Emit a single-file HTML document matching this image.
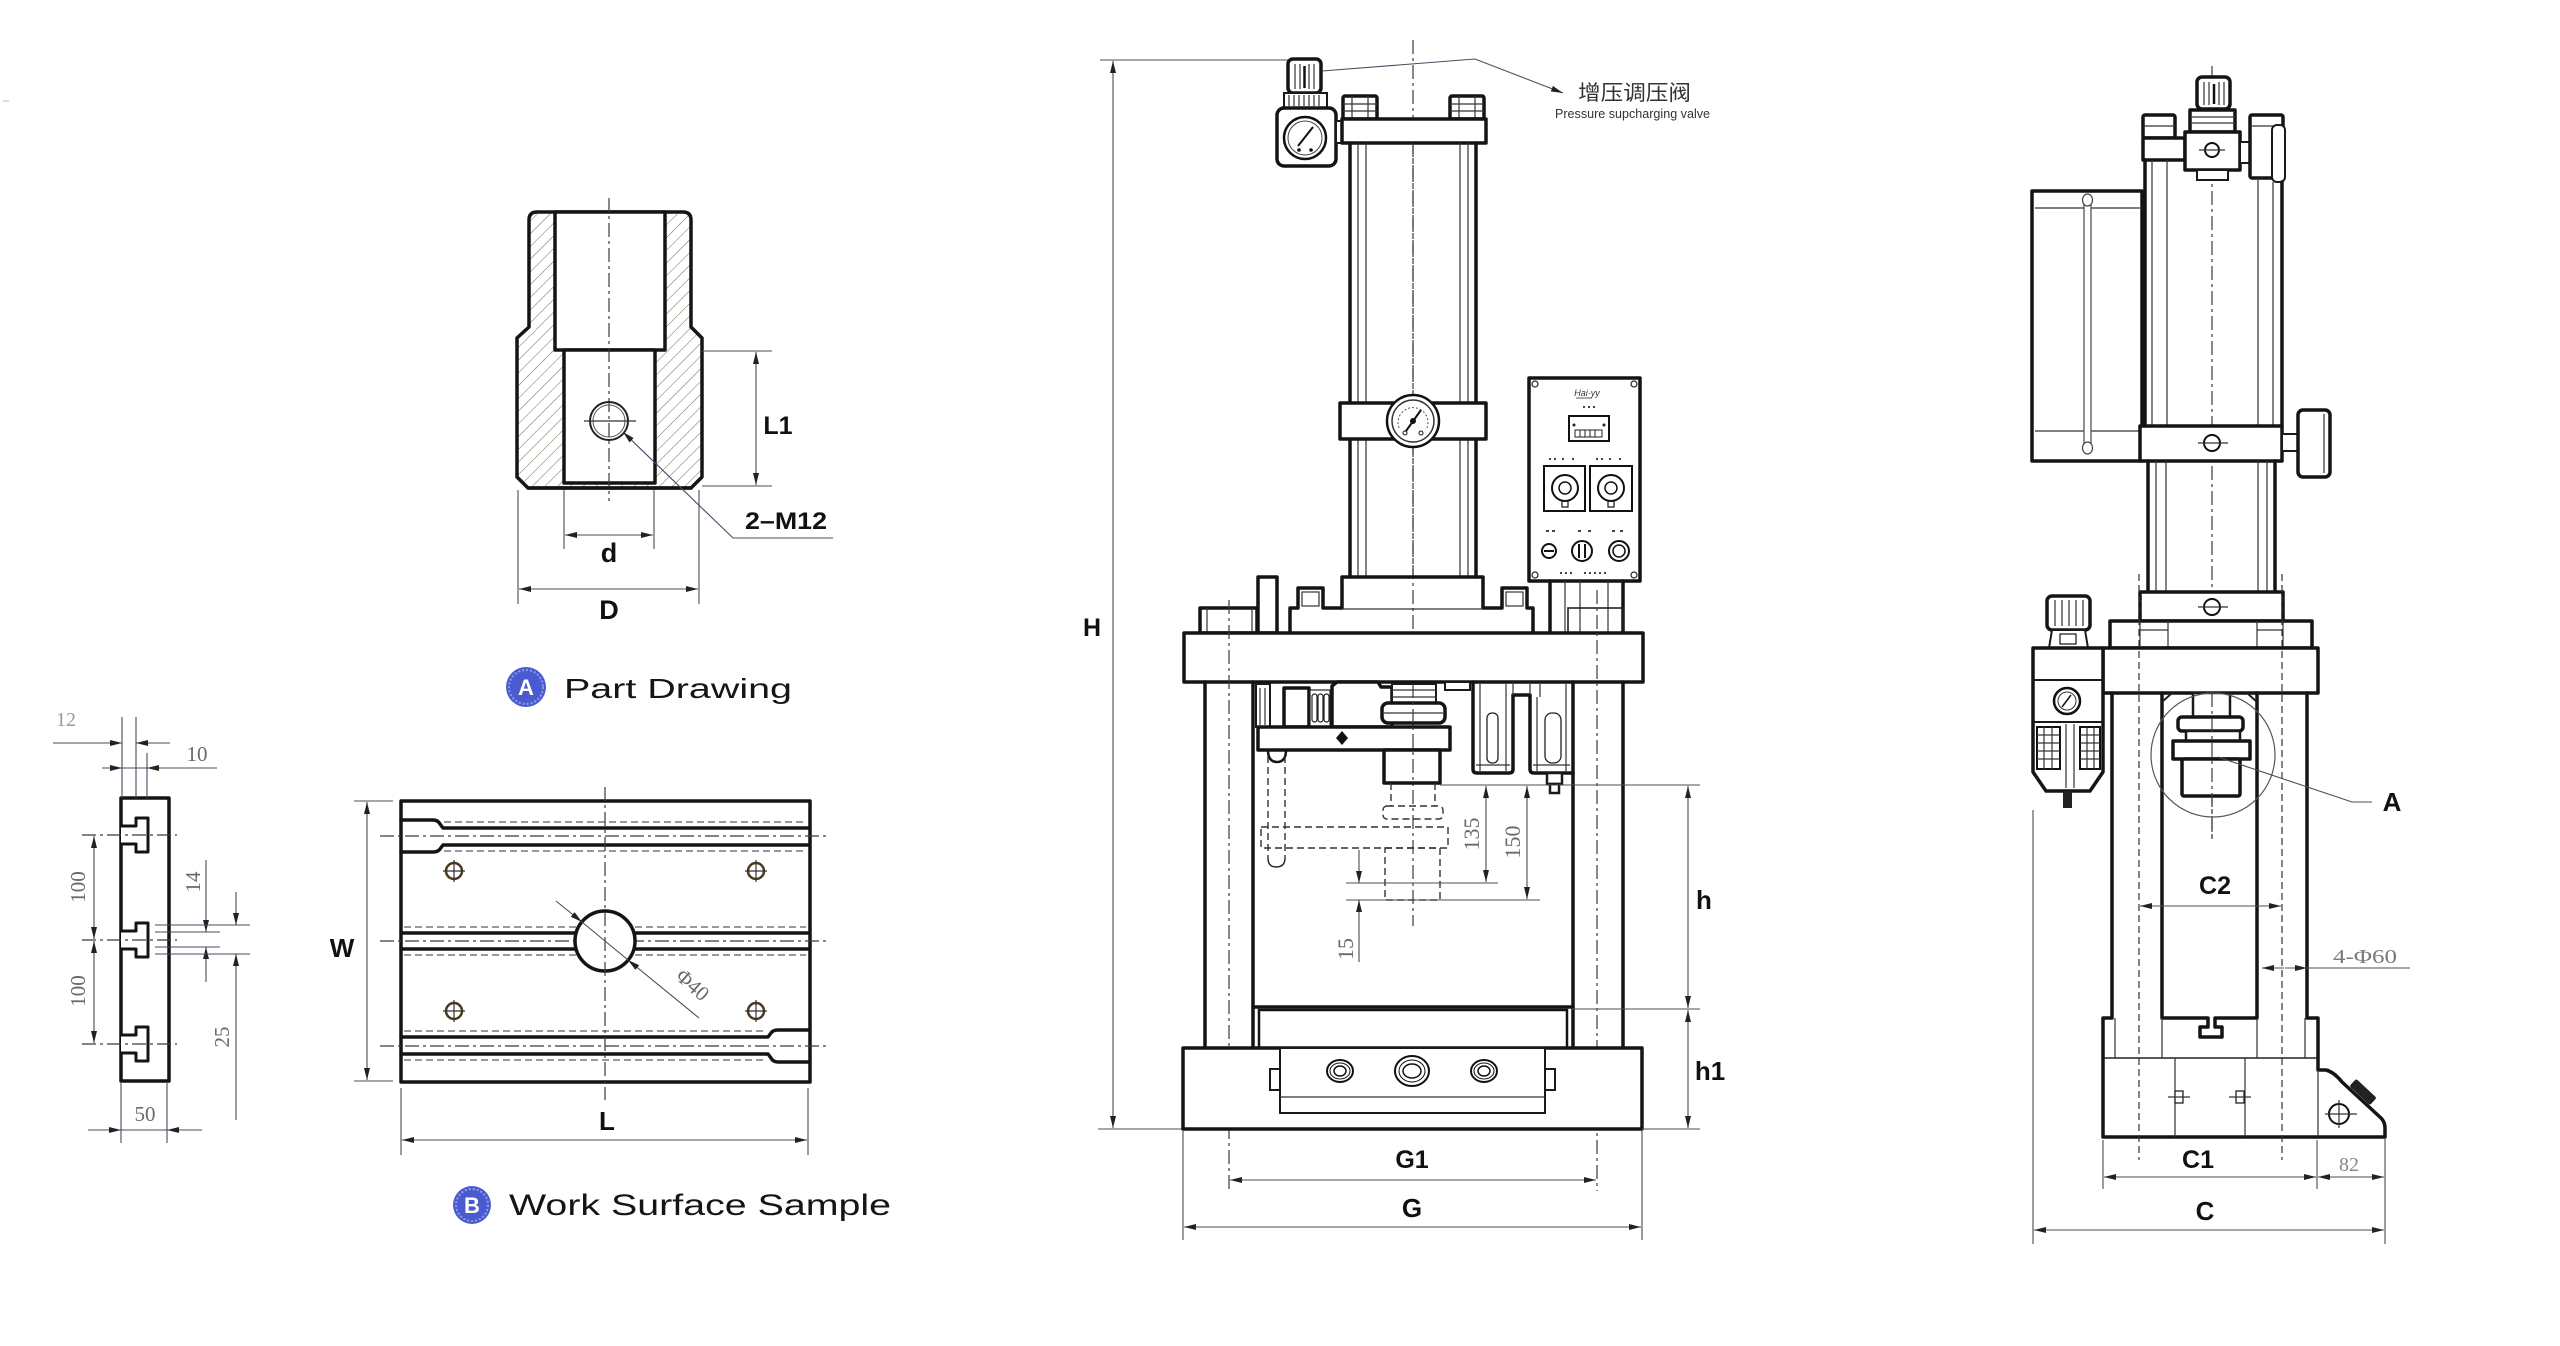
<!DOCTYPE html>
<html><head><meta charset="utf-8"><style>
html,body{margin:0;padding:0;background:#fff;width:2560px;height:1346px;overflow:hidden}
svg{display:block}
.k{stroke:#141414;stroke-width:3.5;fill:none;stroke-linejoin:round;stroke-linecap:round}
.kw{stroke:#141414;stroke-width:3.5;fill:#fff;stroke-linejoin:round}
.m{stroke:#1a1a1a;stroke-width:2;fill:none}
.mw{stroke:#1a1a1a;stroke-width:2;fill:#fff}
.t{stroke:#333;stroke-width:1.2;fill:none}
.dm{stroke:#4d4860;stroke-width:1.1;fill:none}
.cl{stroke:#3a3a3a;stroke-width:1.2;stroke-dasharray:14 4 3 4;fill:none}
.hd{stroke:#333;stroke-width:1.4;stroke-dasharray:7 4;fill:none}
.lb{font-family:"Liberation Sans",Arial,sans-serif;font-weight:bold;fill:#111}
.sr{font-family:"Liberation Serif",serif;fill:#6a6a6a}
.cap{font-family:"Liberation Sans",sans-serif;fill:#151515}
</style></head><body>
<svg width="2560" height="1346" viewBox="0 0 2560 1346" xmlns="http://www.w3.org/2000/svg">
<defs>
<marker id="a" viewBox="0 0 12 6" refX="12" refY="3" markerWidth="12" markerHeight="6" markerUnits="userSpaceOnUse" orient="auto-start-reverse"><path d="M0,0 L12,3 L0,6 Z" fill="#222"/></marker>
<pattern id="hatch" patternUnits="userSpaceOnUse" width="9" height="9" patternTransform="rotate(45)"><line x1="0" y1="0" x2="0" y2="9" stroke="#7a6a55" stroke-width="1"/></pattern>
</defs>
<rect width="2560" height="1346" fill="#fff"/>
<line x1="3" y1="101" x2="9" y2="101" stroke="#bbb" stroke-width="1"/>

<!-- ========== PART DRAWING A ========== -->
<path d="M529,220 Q529,212 537,212 L683,212 Q691,212 691,220 L691,327 L702,338 L702,477 L691,488 L528,488 L517,477 L517,338 L529,327 Z" fill="url(#hatch)" stroke="#141414" stroke-width="3.5" stroke-linejoin="round"/>
<rect class="kw" x="555" y="212" width="110" height="138"/>
<rect class="kw" x="564" y="350" width="91" height="133"/>
<line class="k" x1="528" y1="488" x2="691" y2="488"/>
<line class="cl" x1="609" y1="198" x2="609" y2="501"/>
<circle cx="609" cy="421" r="19" fill="none" stroke="#222" stroke-width="2"/>
<circle cx="609" cy="421" r="16" fill="none" stroke="#555" stroke-width="1"/>
<line class="t" x1="584" y1="421" x2="636" y2="421"/>
<!-- L1 -->
<line class="dm" x1="702" y1="351" x2="772" y2="351"/>
<line class="dm" x1="702" y1="486" x2="772" y2="486"/>
<line class="dm" x1="756" y1="352" x2="756" y2="485" marker-start="url(#a)" marker-end="url(#a)"/>
<text class="lb" x="778" y="434" font-size="25" text-anchor="middle">L1</text>
<!-- 2-M12 -->
<polyline class="dm" points="623,432 733,538 833,538" marker-start="url(#a)"/>
<text class="lb" x="745" y="529" font-size="24" textLength="82" lengthAdjust="spacingAndGlyphs">2–M12</text>
<!-- d -->
<line class="dm" x1="564" y1="490" x2="564" y2="549"/>
<line class="dm" x1="654" y1="490" x2="654" y2="549"/>
<line class="dm" x1="565" y1="535" x2="653" y2="535" marker-start="url(#a)" marker-end="url(#a)"/>
<text class="lb" x="609" y="562" font-size="27" text-anchor="middle">d</text>
<!-- D -->
<line class="dm" x1="518" y1="490" x2="518" y2="604"/>
<line class="dm" x1="699" y1="490" x2="699" y2="604"/>
<line class="dm" x1="519" y1="589" x2="698" y2="589" marker-start="url(#a)" marker-end="url(#a)"/>
<text class="lb" x="609" y="619" font-size="27" text-anchor="middle">D</text>
<!-- label A -->
<circle cx="526" cy="687" r="20" fill="#4a5bd0"/>
<circle cx="526" cy="687" r="17" fill="none" stroke="#8f9ae8" stroke-width="2" stroke-dasharray="2 2"/>
<text class="lb" x="526" y="695" font-size="22" text-anchor="middle" style="fill:#fff">A</text>
<text class="cap" x="564" y="698" font-size="28" textLength="228" lengthAdjust="spacingAndGlyphs">Part Drawing</text>

<!-- ========== RAIL PROFILE ========== -->
<rect class="kw" x="121" y="798" width="48" height="283"/>
<g class="kw" style="stroke-width:3">
<path d="M121,826 L136,826 L136,818 L148,818 L148,852 L136,852 L136,844 L121,844"/>
<path d="M121,931 L136,931 L136,923 L148,923 L148,957 L136,957 L136,949 L121,949"/>
<path d="M121,1035 L136,1035 L136,1027 L148,1027 L148,1061 L136,1061 L136,1053 L121,1053"/>
</g>
<line class="cl" x1="82" y1="835" x2="177" y2="835"/>
<line class="cl" x1="82" y1="940" x2="177" y2="940"/>
<line class="cl" x1="82" y1="1044" x2="177" y2="1044"/>
<line class="dm" x1="94" y1="836" x2="94" y2="939" marker-start="url(#a)" marker-end="url(#a)"/>
<line class="dm" x1="94" y1="941" x2="94" y2="1043" marker-start="url(#a)" marker-end="url(#a)"/>
<text class="sr" font-size="21" transform="translate(78,887) rotate(-90)" text-anchor="middle" y="7">100</text>
<text class="sr" font-size="21" transform="translate(78,991) rotate(-90)" text-anchor="middle" y="7">100</text>
<!-- 12 -->
<line class="dm" x1="122" y1="717" x2="122" y2="798"/>
<line class="dm" x1="136" y1="717" x2="136" y2="798"/>
<line class="dm" x1="53" y1="743" x2="122" y2="743" marker-end="url(#a)"/>
<line class="dm" x1="170" y1="743" x2="136" y2="743" marker-end="url(#a)"/>
<text class="sr" x="66" y="726" font-size="20" text-anchor="middle" style="fill:#9a9a9a">12</text>
<!-- 10 -->
<line class="dm" x1="147" y1="753" x2="147" y2="798"/>
<line class="dm" x1="102" y1="768" x2="122" y2="768" marker-end="url(#a)"/>
<line class="dm" x1="217" y1="768" x2="147" y2="768" marker-end="url(#a)"/>
<line class="dm" x1="122" y1="768" x2="147" y2="768"/>
<text class="sr" x="197" y="761" font-size="21" text-anchor="middle">10</text>
<!-- 14 -->
<line class="dm" x1="155" y1="932" x2="220" y2="932"/>
<line class="dm" x1="155" y1="947" x2="220" y2="947"/>
<line class="dm" x1="206" y1="860" x2="206" y2="932" marker-end="url(#a)"/>
<line class="dm" x1="206" y1="982" x2="206" y2="947" marker-end="url(#a)"/>
<text class="sr" font-size="21" transform="translate(193,882) rotate(-90)" text-anchor="middle" y="7">14</text>
<!-- 25 -->
<line class="dm" x1="155" y1="925" x2="250" y2="925"/>
<line class="dm" x1="155" y1="954" x2="250" y2="954"/>
<line class="dm" x1="236" y1="892" x2="236" y2="925" marker-end="url(#a)"/>
<line class="dm" x1="236" y1="1120" x2="236" y2="954" marker-end="url(#a)"/>
<text class="sr" font-size="21" transform="translate(222,1037) rotate(-90)" text-anchor="middle" y="7">25</text>
<!-- 50 -->
<line class="dm" x1="121" y1="1083" x2="121" y2="1143"/>
<line class="dm" x1="167" y1="1083" x2="167" y2="1143"/>
<line class="dm" x1="88" y1="1130" x2="121" y2="1130" marker-end="url(#a)"/>
<line class="dm" x1="202" y1="1130" x2="167" y2="1130" marker-end="url(#a)"/>
<line class="dm" x1="121" y1="1130" x2="167" y2="1130"/>
<text class="sr" x="145" y="1121" font-size="21" text-anchor="middle">50</text>

<!-- ========== WORK SURFACE PLATE ========== -->
<rect class="kw" x="401" y="801" width="409" height="281"/>
<path class="k" d="M401,820 L433,820 Q438,820 440,824 L443,828 L808,828"/>
<path class="k" d="M401,852 L433,852 Q438,852 440,849 L443,845 L808,845"/>
<line class="hd" x1="444" y1="822" x2="806" y2="822" style="stroke-width:1.1"/>
<line class="hd" x1="444" y1="851" x2="806" y2="851" style="stroke-width:1.1"/>
<line class="cl" x1="380" y1="836" x2="828" y2="836"/>
<line class="k" x1="401" y1="933" x2="576" y2="933"/>
<line class="k" x1="401" y1="949" x2="576" y2="949"/>
<line class="k" x1="634" y1="933" x2="808" y2="933"/>
<line class="k" x1="634" y1="949" x2="808" y2="949"/>
<line class="hd" x1="404" y1="927" x2="806" y2="927" style="stroke-width:1.1"/>
<line class="hd" x1="404" y1="955" x2="806" y2="955" style="stroke-width:1.1"/>
<line class="cl" x1="380" y1="941" x2="828" y2="941"/>
<path class="k" d="M401,1037 L768,1037 L771,1033 Q773,1030 778,1030 L808,1030"/>
<path class="k" d="M401,1054 L768,1054 L771,1058 Q773,1062 778,1062 L808,1062"/>
<line class="hd" x1="404" y1="1031" x2="766" y2="1031" style="stroke-width:1.1"/>
<line class="hd" x1="404" y1="1060" x2="766" y2="1060" style="stroke-width:1.1"/>
<line class="cl" x1="380" y1="1046" x2="828" y2="1046"/>
<circle class="kw" cx="605" cy="941" r="30"/>
<line class="cl" x1="605" y1="787" x2="605" y2="1100"/>
<g>
<circle cx="454" cy="871" r="8" fill="none" stroke="#4a3a20" stroke-width="2.5"/><line class="t" x1="443" y1="871" x2="465" y2="871"/><line class="t" x1="454" y1="860" x2="454" y2="882"/>
<circle cx="756" cy="871" r="8" fill="none" stroke="#4a3a20" stroke-width="2.5"/><line class="t" x1="745" y1="871" x2="767" y2="871"/><line class="t" x1="756" y1="860" x2="756" y2="882"/>
<circle cx="454" cy="1011" r="8" fill="none" stroke="#4a3a20" stroke-width="2.5"/><line class="t" x1="443" y1="1011" x2="465" y2="1011"/><line class="t" x1="454" y1="1000" x2="454" y2="1022"/>
<circle cx="756" cy="1011" r="8" fill="none" stroke="#4a3a20" stroke-width="2.5"/><line class="t" x1="745" y1="1011" x2="767" y2="1011"/><line class="t" x1="756" y1="1000" x2="756" y2="1022"/>
</g>
<line class="dm" x1="556" y1="901" x2="582" y2="922" marker-end="url(#a)"/>
<line class="dm" x1="699" y1="1018" x2="628" y2="960" marker-end="url(#a)"/>
<line class="dm" x1="582" y1="922" x2="628" y2="960"/>
<text class="sr" font-size="21" transform="translate(688,990) rotate(42)" text-anchor="middle">Φ40</text>
<line class="dm" x1="354" y1="801" x2="393" y2="801"/>
<line class="dm" x1="354" y1="1081" x2="393" y2="1081"/>
<line class="dm" x1="367" y1="802" x2="367" y2="1080" marker-start="url(#a)" marker-end="url(#a)"/>
<text class="lb" x="342" y="957" font-size="26" text-anchor="middle">W</text>
<line class="dm" x1="401" y1="1088" x2="401" y2="1155"/>
<line class="dm" x1="808" y1="1088" x2="808" y2="1155"/>
<line class="dm" x1="402" y1="1140" x2="807" y2="1140" marker-start="url(#a)" marker-end="url(#a)"/>
<text class="lb" x="607" y="1130" font-size="26" text-anchor="middle">L</text>
<circle cx="472" cy="1205" r="19" fill="#4a5bd0"/>
<circle cx="472" cy="1205" r="16" fill="none" stroke="#8f9ae8" stroke-width="2" stroke-dasharray="2 2"/>
<text class="lb" x="472" y="1213" font-size="22" text-anchor="middle" style="fill:#fff">B</text>
<text class="cap" x="509" y="1215" font-size="30" textLength="382" lengthAdjust="spacingAndGlyphs">Work Surface Sample</text>

<!-- ========== MAIN PRESS FRONT VIEW ========== -->
<line class="dm" x1="1100" y1="60" x2="1290" y2="60"/>
<line class="dm" x1="1098" y1="1129" x2="1183" y2="1129"/>
<line class="dm" x1="1113" y1="61" x2="1113" y2="1128" marker-start="url(#a)" marker-end="url(#a)"/>
<text class="lb" x="1092" y="636" font-size="25" text-anchor="middle">H</text>
<line class="cl" x1="1413" y1="40" x2="1413" y2="926"/>

<!-- valve -->
<rect class="kw" x="1288" y="59" width="33" height="34" rx="5"/>
<g class="t"><line x1="1295" y1="64" x2="1295" y2="89"/><line x1="1300" y1="64" x2="1300" y2="89"/><line x1="1309" y1="64" x2="1309" y2="89"/><line x1="1314" y1="64" x2="1314" y2="89"/></g>
<line x1="1304.5" y1="66" x2="1304.5" y2="88" stroke="#111" stroke-width="2.5"/>
<rect class="mw" x="1284" y="93" width="43" height="15"/>
<g class="t"><line x1="1289" y1="95" x2="1289" y2="106"/><line x1="1294" y1="95" x2="1294" y2="106"/><line x1="1299" y1="95" x2="1299" y2="106"/><line x1="1304" y1="95" x2="1304" y2="106"/><line x1="1309" y1="95" x2="1309" y2="106"/><line x1="1314" y1="95" x2="1314" y2="106"/><line x1="1319" y1="95" x2="1319" y2="106"/></g>
<rect class="kw" x="1277" y="108" width="59" height="58" rx="7"/>
<rect class="mw" x="1336" y="121" width="7" height="22"/>
<circle cx="1305" cy="138" r="21" fill="#fff" stroke="#111" stroke-width="2.5"/>
<circle cx="1305" cy="138" r="17" fill="none" stroke="#444" stroke-width="1"/>
<line x1="1298" y1="146" x2="1313" y2="127" stroke="#111" stroke-width="2"/>
<circle cx="1299" cy="150" r="1.8" fill="#111"/><circle cx="1311" cy="150" r="1.8" fill="#111"/>
<polyline class="dm" points="1322,71 1475,59 1563,93" marker-end="url(#a)"/>
<text x="1578" y="100" font-size="21" fill="#333" font-family="'Liberation Sans','Noto Sans CJK SC',sans-serif" textLength="113" lengthAdjust="spacingAndGlyphs">增压调压阀</text>
<text x="1555" y="118" font-size="13" fill="#333" font-family="'Liberation Sans',sans-serif" textLength="155" lengthAdjust="spacingAndGlyphs">Pressure supcharging valve</text>

<!-- cylinder -->
<rect class="kw" x="1343" y="96" width="34" height="23" rx="2"/>
<rect class="kw" x="1450" y="96" width="34" height="23" rx="2"/>
<g class="t"><line x1="1343" y1="104" x2="1377" y2="104"/><line x1="1343" y1="111" x2="1377" y2="111"/><line x1="1352" y1="96" x2="1352" y2="119"/><line x1="1368" y1="96" x2="1368" y2="119"/>
<line x1="1450" y1="104" x2="1484" y2="104"/><line x1="1450" y1="111" x2="1484" y2="111"/><line x1="1459" y1="96" x2="1459" y2="119"/><line x1="1475" y1="96" x2="1475" y2="119"/></g>
<rect class="kw" x="1342" y="119" width="144" height="24"/>
<line class="k" x1="1350" y1="143" x2="1350" y2="577"/>
<line class="k" x1="1476" y1="143" x2="1476" y2="577"/>
<g class="t"><line x1="1358" y1="143" x2="1358" y2="577"/><line x1="1366" y1="143" x2="1366" y2="577"/><line x1="1460" y1="143" x2="1460" y2="577"/><line x1="1468" y1="143" x2="1468" y2="577"/></g>
<line class="cl" x1="1413" y1="143" x2="1413" y2="577"/>
<rect class="kw" x="1340" y="403" width="146" height="36"/>
<circle cx="1413" cy="421" r="26" fill="#fff" stroke="#111" stroke-width="2.5"/>
<circle cx="1413" cy="421" r="21" fill="none" stroke="#333" stroke-width="1.5"/>
<path d="M1399,428 A15,15 0 1 1 1427,428" fill="none" stroke="#555" stroke-width="1" stroke-dasharray="2 2"/>
<line x1="1406" y1="431" x2="1421" y2="410" stroke="#111" stroke-width="2"/>
<circle cx="1413" cy="421" r="3" fill="#111"/>
<circle cx="1405" cy="433" r="2" fill="none" stroke="#111"/><circle cx="1421" cy="433" r="2" fill="none" stroke="#111"/>

<!-- stepped base above crossbar -->
<path class="k" d="M1290,633 L1290,608 L1298,608 L1298,588 L1323,588 L1323,608 L1342,608 L1342,577 L1483,577 L1483,608 L1502,608 L1502,588 L1527,588 L1527,608 L1533,608 L1533,633"/>
<line class="t" x1="1342" y1="609" x2="1483" y2="609"/>
<rect class="t" x="1302" y="592" width="17" height="14"/>
<rect class="t" x="1506" y="592" width="17" height="14"/>
<rect class="kw" x="1200" y="608" width="57" height="25"/>
<line class="t" x1="1207" y1="608" x2="1207" y2="633"/><line class="t" x1="1252" y1="608" x2="1252" y2="633"/>
<rect class="kw" x="1258" y="577" width="19" height="56"/>

<!-- control box -->
<rect class="kw" x="1529" y="378" width="111" height="203"/>
<g fill="none" stroke="#222" stroke-width="1.2">
<circle cx="1535" cy="384" r="3"/><circle cx="1634" cy="384" r="3"/><circle cx="1535" cy="575" r="3"/><circle cx="1634" cy="575" r="3"/>
</g>
<text x="1587" y="396" font-size="9" font-style="italic" text-anchor="middle" fill="#333" font-family="'Liberation Sans',sans-serif">Hai·yy</text>
<line x1="1576" y1="398" x2="1592" y2="398" stroke="#333" stroke-width="0.8"/>
<g fill="#444"><rect x="1583" y="406" width="2" height="2"/><rect x="1588" y="406" width="2" height="2"/><rect x="1593" y="406" width="2" height="2"/></g>
<rect x="1569" y="416" width="40" height="25" fill="#fff" stroke="#111" stroke-width="2"/>
<rect x="1575" y="430" width="27" height="7" fill="none" stroke="#222" stroke-width="1"/>
<g stroke="#222" stroke-width="1"><line x1="1580" y1="430" x2="1580" y2="437"/><line x1="1585" y1="430" x2="1585" y2="437"/><line x1="1590" y1="430" x2="1590" y2="437"/><line x1="1595" y1="430" x2="1595" y2="437"/></g>
<circle cx="1574" cy="425" r="1.5" fill="#222"/><circle cx="1604" cy="425" r="1.5" fill="#222"/>
<g fill="#444"><rect x="1549" y="458" width="2" height="2"/><rect x="1554" y="458" width="2" height="2"/><rect x="1562" y="458" width="2" height="2"/><rect x="1572" y="458" width="2" height="2"/>
<rect x="1596" y="458" width="2" height="2"/><rect x="1601" y="458" width="2" height="2"/><rect x="1609" y="458" width="2" height="2"/><rect x="1619" y="458" width="2" height="2"/></g>
<rect x="1544" y="466" width="41" height="45" fill="#fff" stroke="#111" stroke-width="2"/>
<rect x="1590" y="466" width="42" height="45" fill="#fff" stroke="#111" stroke-width="2"/>
<circle cx="1565" cy="488" r="13" fill="none" stroke="#111" stroke-width="2"/><circle cx="1565" cy="488" r="6" fill="none" stroke="#111" stroke-width="1.5"/>
<circle cx="1611" cy="488" r="13" fill="none" stroke="#111" stroke-width="2"/><circle cx="1611" cy="488" r="6" fill="none" stroke="#111" stroke-width="1.5"/>
<rect x="1562" y="501" width="6" height="6" fill="none" stroke="#111" stroke-width="1.2"/><rect x="1608" y="501" width="6" height="6" fill="none" stroke="#111" stroke-width="1.2"/>
<g fill="#444"><rect x="1546" y="530" width="3" height="2"/><rect x="1552" y="530" width="3" height="2"/><rect x="1578" y="530" width="3" height="2"/><rect x="1588" y="530" width="3" height="2"/><rect x="1612" y="530" width="3" height="2"/><rect x="1620" y="530" width="3" height="2"/></g>
<circle cx="1549" cy="551" r="7" fill="none" stroke="#111" stroke-width="2"/><line x1="1544" y1="551" x2="1554" y2="551" stroke="#111" stroke-width="2"/>
<circle cx="1582" cy="551" r="10" fill="none" stroke="#111" stroke-width="2"/><line x1="1579" y1="544" x2="1579" y2="558" stroke="#111" stroke-width="2"/><line x1="1585" y1="544" x2="1585" y2="558" stroke="#111" stroke-width="2"/>
<circle cx="1619" cy="551" r="10" fill="none" stroke="#111" stroke-width="2"/><circle cx="1619" cy="551" r="6" fill="none" stroke="#111" stroke-width="1.5"/>
<g fill="#444"><rect x="1560" y="572" width="2" height="2"/><rect x="1565" y="572" width="2" height="2"/><rect x="1570" y="572" width="2" height="2"/><rect x="1584" y="572" width="2" height="2"/><rect x="1589" y="572" width="2" height="2"/><rect x="1594" y="572" width="2" height="2"/><rect x="1599" y="572" width="2" height="2"/><rect x="1604" y="572" width="2" height="2"/></g>
<!-- FR unit below box -->
<line class="k" x1="1550" y1="581" x2="1550" y2="633"/>
<line class="k" x1="1623" y1="581" x2="1623" y2="633"/>
<g class="t"><line x1="1565" y1="581" x2="1565" y2="633"/><line x1="1580" y1="581" x2="1580" y2="633"/><line x1="1608" y1="581" x2="1608" y2="633"/></g>
<rect x="1568" y="608" width="55" height="25" fill="none" stroke="#222" stroke-width="1.6"/>

<!-- crossbar and frame -->
<rect class="kw" x="1184" y="633" width="459" height="49"/>
<line class="k" x1="1205" y1="682" x2="1205" y2="1048"/>
<line class="k" x1="1253" y1="682" x2="1253" y2="1048"/>
<line class="k" x1="1573" y1="682" x2="1573" y2="1048"/>
<line class="k" x1="1623" y1="682" x2="1623" y2="1048"/>
<line class="cl" x1="1229" y1="600" x2="1229" y2="1191"/>
<line class="cl" x1="1597" y1="590" x2="1597" y2="1191"/>
<line class="k" x1="1253" y1="1007" x2="1573" y2="1007"/>
<rect x="1259" y="1010" width="308" height="38" fill="none" stroke="#141414" stroke-width="2.5"/>
<rect class="kw" x="1183" y="1048" width="459" height="81"/>
<rect x="1280" y="1048" width="265" height="65" fill="#fff" stroke="#1a1a1a" stroke-width="2"/>
<line class="t" x1="1280" y1="1097" x2="1545" y2="1097"/>
<rect class="mw" x="1270" y="1069" width="10" height="21"/>
<rect class="mw" x="1545" y="1069" width="10" height="21"/>
<g fill="none" stroke="#111">
<ellipse cx="1340" cy="1071" rx="13" ry="11" stroke-width="2"/><ellipse cx="1340" cy="1071" rx="10" ry="8" stroke-width="1"/><ellipse cx="1340" cy="1071" rx="6" ry="5" stroke-width="1.5"/>
<ellipse cx="1412" cy="1071" rx="17" ry="15" stroke-width="2"/><ellipse cx="1412" cy="1071" rx="13" ry="11" stroke-width="1"/><ellipse cx="1412" cy="1071" rx="9" ry="7" stroke-width="1.5"/>
<ellipse cx="1484" cy="1071" rx="13" ry="11" stroke-width="2"/><ellipse cx="1484" cy="1071" rx="10" ry="8" stroke-width="1"/><ellipse cx="1484" cy="1071" rx="6" ry="5" stroke-width="1.5"/>
</g>

<!-- mechanism -->
<rect class="mw" x="1256" y="684" width="14" height="43"/>
<g class="t"><line x1="1260" y1="688" x2="1260" y2="725"/><line x1="1265" y1="688" x2="1265" y2="725"/></g>
<rect class="kw" x="1284" y="688" width="25" height="39"/>
<rect x="1310" y="690" width="20" height="37" fill="#fff" stroke="#222" stroke-width="1.2"/>
<g fill="none" stroke="#222" stroke-width="1.2"><rect x="1312" y="694" width="5" height="28" rx="2.5"/><rect x="1318" y="694" width="5" height="28" rx="2.5"/><rect x="1324" y="694" width="5" height="28" rx="2.5"/></g>
<path class="kw" d="M1332,727 L1332,686 L1337,682 L1378,682 L1381,687 L1392,687 L1392,727 Z"/>
<rect class="mw" x="1392" y="684" width="44" height="19"/>
<g class="t"><line x1="1392" y1="690" x2="1436" y2="690"/><line x1="1392" y1="697" x2="1436" y2="697"/></g>
<rect class="kw" x="1382" y="703" width="63" height="20" rx="6"/>
<line class="t" x1="1384" y1="713" x2="1443" y2="713"/>
<rect class="kw" x="1258" y="727" width="192" height="23"/>
<path class="k" d="M1268,750 Q1268,762 1277,762 Q1286,762 1286,750" style="stroke-width:2.5"/>
<path d="M1342,731 L1348,738 L1342,745 L1336,738 Z" fill="#111"/>
<rect class="kw" x="1384" y="750" width="56" height="33"/>
<line class="cl" x1="1413" y1="684" x2="1413" y2="783"/>
<rect class="mw" x="1445" y="682" width="25" height="8"/>
<path class="k" d="M1473,682 L1473,769 Q1473,773 1477,773 L1509,773 Q1513,773 1513,769 L1513,695 L1530,695 L1530,769 Q1530,773 1534,773 L1573,773"/>
<g class="t"><line x1="1480" y1="684" x2="1480" y2="771"/><line x1="1506" y1="684" x2="1506" y2="771"/><line x1="1537" y1="697" x2="1537" y2="771"/><line x1="1566" y1="684" x2="1566" y2="771"/><line x1="1513" y1="682" x2="1513" y2="695"/><line x1="1530" y1="682" x2="1530" y2="695"/><line x1="1540" y1="682" x2="1540" y2="697"/></g>
<rect x="1487" y="713" width="11" height="50" rx="5" fill="none" stroke="#222" stroke-width="1.3"/>
<rect x="1545" y="713" width="16" height="50" rx="7" fill="none" stroke="#222" stroke-width="1.3"/>
<line class="t" x1="1476" y1="765" x2="1510" y2="765"/><line class="t" x1="1533" y1="765" x2="1570" y2="765"/>
<rect class="mw" x="1547" y="773" width="15" height="11" style="stroke-width:2.5"/>
<rect class="mw" x="1550" y="784" width="9" height="9" style="stroke-width:2.5"/>
<line class="hd" x1="1391" y1="783" x2="1391" y2="806"/>
<line class="hd" x1="1435" y1="783" x2="1435" y2="806"/>
<rect class="hd" x="1383" y="806" width="60" height="13" rx="4"/>
<rect class="hd" x="1261" y="827" width="187" height="21"/>
<rect class="hd" x="1385" y="848" width="55" height="52"/>
<line class="hd" x1="1268" y1="756" x2="1268" y2="858"/>
<line class="hd" x1="1285" y1="756" x2="1285" y2="858"/>
<path d="M1268,858 Q1268,867 1276,867 Q1285,867 1285,858" fill="none" stroke="#222" stroke-width="1.4"/>

<!-- dims inside -->
<line class="dm" x1="1440" y1="785" x2="1700" y2="785"/>
<line class="dm" x1="1346" y1="883" x2="1498" y2="883"/>
<line class="dm" x1="1346" y1="900" x2="1540" y2="900"/>
<line class="dm" x1="1486" y1="786" x2="1486" y2="882" marker-start="url(#a)" marker-end="url(#a)"/>
<line class="dm" x1="1527" y1="786" x2="1527" y2="899" marker-start="url(#a)" marker-end="url(#a)"/>
<text class="sr" font-size="22" transform="translate(1471,834) rotate(-90)" text-anchor="middle" y="8">135</text>
<text class="sr" font-size="22" transform="translate(1512,842) rotate(-90)" text-anchor="middle" y="8">150</text>
<line class="dm" x1="1359" y1="850" x2="1359" y2="883" marker-end="url(#a)"/>
<line class="dm" x1="1359" y1="962" x2="1359" y2="900" marker-end="url(#a)"/>
<text class="sr" font-size="22" transform="translate(1345,949) rotate(-90)" text-anchor="middle" y="8">15</text>
<line class="dm" x1="1571" y1="1009" x2="1700" y2="1009"/>
<line class="dm" x1="1642" y1="1129" x2="1700" y2="1129"/>
<line class="dm" x1="1688" y1="786" x2="1688" y2="1008" marker-start="url(#a)" marker-end="url(#a)"/>
<line class="dm" x1="1688" y1="1010" x2="1688" y2="1128" marker-start="url(#a)" marker-end="url(#a)"/>
<text class="lb" x="1704" y="909" font-size="26" text-anchor="middle">h</text>
<text class="lb" x="1710" y="1080" font-size="26" text-anchor="middle">h1</text>
<line class="dm" x1="1230" y1="1180" x2="1596" y2="1180" marker-start="url(#a)" marker-end="url(#a)"/>
<text class="lb" x="1412" y="1168" font-size="25" text-anchor="middle">G1</text>
<line class="dm" x1="1183" y1="1131" x2="1183" y2="1240"/>
<line class="dm" x1="1642" y1="1131" x2="1642" y2="1240"/>
<line class="dm" x1="1184" y1="1227" x2="1641" y2="1227" marker-start="url(#a)" marker-end="url(#a)"/>
<text class="lb" x="1412" y="1217" font-size="26" text-anchor="middle">G</text>

<!-- ========== SIDE VIEW ========== -->
<line class="cl" x1="2212" y1="66" x2="2212" y2="840"/>
<!-- top knob -->
<rect class="kw" x="2197" y="77" width="33" height="32" rx="5"/>
<g class="t"><line x1="2204" y1="82" x2="2204" y2="105"/><line x1="2209" y1="82" x2="2209" y2="105"/><line x1="2219" y1="82" x2="2219" y2="105"/><line x1="2224" y1="82" x2="2224" y2="105"/></g>
<line x1="2214" y1="84" x2="2214" y2="104" stroke="#111" stroke-width="2.5"/>
<rect class="kw" x="2190" y="110" width="45" height="22"/>
<g class="t"><line x1="2190" y1="117" x2="2235" y2="117"/><line x1="2190" y1="123" x2="2235" y2="123"/></g>
<!-- left boss + band -->
<rect class="kw" x="2143" y="115" width="32" height="23" rx="2"/>
<line class="t" x1="2143" y1="126" x2="2175" y2="126"/>
<rect class="kw" x="2143" y="138" width="42" height="22"/>
<!-- center block -->
<rect class="kw" x="2185" y="132" width="55" height="38"/>
<circle cx="2212" cy="150" r="7" fill="none" stroke="#111" stroke-width="2"/>
<line class="t" x1="2199" y1="150" x2="2225" y2="150"/>
<rect class="mw" x="2197" y="170" width="31" height="10"/>
<rect class="mw" x="2240" y="142" width="12" height="21"/>
<!-- right tall block -->
<rect class="kw" x="2250" y="115" width="33" height="63" rx="2"/>
<line class="t" x1="2250" y1="126" x2="2283" y2="126"/>
<rect class="mw" x="2272" y="125" width="13" height="57" rx="5"/>
<!-- cylinder -->
<line class="k" x1="2145" y1="160" x2="2145" y2="426"/>
<line class="k" x1="2282" y1="182" x2="2282" y2="426"/>
<g class="t"><line x1="2152" y1="160" x2="2152" y2="426"/><line x1="2167" y1="160" x2="2167" y2="426"/><line x1="2258" y1="178" x2="2258" y2="426"/><line x1="2273" y1="182" x2="2273" y2="426"/></g>
<!-- controller box -->
<rect class="kw" x="2032" y="191" width="110" height="270"/>
<line class="t" x1="2035" y1="208" x2="2140" y2="208"/>
<line class="t" x1="2035" y1="431" x2="2140" y2="431"/>
<rect x="2084" y="197" width="7" height="254" rx="3.5" fill="#fff" stroke="#555" stroke-width="1.3"/>
<ellipse cx="2087.5" cy="200" rx="5" ry="6" fill="#fff" stroke="#444" stroke-width="1.2"/>
<ellipse cx="2087.5" cy="448" rx="5" ry="6" fill="#fff" stroke="#444" stroke-width="1.2"/>
<!-- clamp -->
<rect class="kw" x="2140" y="426" width="142" height="35"/>
<circle cx="2212" cy="443" r="8" fill="none" stroke="#111" stroke-width="2"/>
<line class="t" x1="2198" y1="443" x2="2228" y2="443"/>
<rect class="mw" x="2282" y="434" width="16" height="17"/>
<rect class="kw" x="2298" y="410" width="32" height="67" rx="5"/>
<line class="t" x1="2324" y1="414" x2="2324" y2="473"/>
<!-- lower cylinder -->
<line class="k" x1="2148" y1="461" x2="2148" y2="592"/>
<line class="k" x1="2275" y1="461" x2="2275" y2="592"/>
<g class="t"><line x1="2156" y1="461" x2="2156" y2="592"/><line x1="2166" y1="461" x2="2166" y2="592"/><line x1="2258" y1="461" x2="2258" y2="592"/><line x1="2267" y1="461" x2="2267" y2="592"/></g>
<rect class="kw" x="2140" y="592" width="143" height="29"/>
<circle cx="2212" cy="607" r="8" fill="none" stroke="#111" stroke-width="2"/>
<line class="t" x1="2198" y1="607" x2="2228" y2="607"/>
<rect class="kw" x="2110" y="621" width="202" height="27"/>
<g class="t"><line x1="2140" y1="621" x2="2140" y2="648"/><line x1="2168" y1="621" x2="2168" y2="648"/><line x1="2257" y1="621" x2="2257" y2="648"/><line x1="2283" y1="621" x2="2283" y2="648"/><line x1="2140" y1="630" x2="2168" y2="630"/><line x1="2257" y1="630" x2="2283" y2="630"/></g>
<rect class="kw" x="2103" y="648" width="215" height="45"/>
<!-- FRL -->
<rect class="kw" x="2047" y="596" width="43" height="34" rx="5"/>
<g class="t"><line x1="2055" y1="600" x2="2055" y2="626"/><line x1="2062" y1="600" x2="2062" y2="626"/><line x1="2069" y1="600" x2="2069" y2="626"/><line x1="2076" y1="600" x2="2076" y2="626"/><line x1="2083" y1="600" x2="2083" y2="626"/></g>
<path class="mw" d="M2052,630 L2085,630 L2088,648 L2049,648 Z"/>
<rect x="2060" y="634" width="16" height="10" fill="none" stroke="#222" stroke-width="1.3"/>
<path class="kw" d="M2033,648 L2103,648 L2103,772 L2090,791 L2046,791 L2033,772 Z"/>
<line class="m" x1="2033" y1="680" x2="2103" y2="680"/>
<line class="m" x1="2033" y1="722" x2="2103" y2="722"/>
<circle cx="2067" cy="701" r="13" fill="#fff" stroke="#111" stroke-width="2.5"/>
<circle cx="2067" cy="701" r="9" fill="none" stroke="#333" stroke-width="1"/>
<line x1="2062" y1="707" x2="2071" y2="695" stroke="#111" stroke-width="1.5"/>
<rect x="2037" y="727" width="23" height="42" fill="#fff" stroke="#111" stroke-width="2"/>
<rect x="2080" y="727" width="20" height="42" fill="#fff" stroke="#111" stroke-width="2"/>
<g class="t"><line x1="2037" y1="735" x2="2060" y2="735"/><line x1="2037" y1="743" x2="2060" y2="743"/><line x1="2037" y1="751" x2="2060" y2="751"/><line x1="2037" y1="759" x2="2060" y2="759"/>
<line x1="2044" y1="727" x2="2044" y2="769"/><line x1="2052" y1="727" x2="2052" y2="769"/>
<line x1="2080" y1="735" x2="2100" y2="735"/><line x1="2080" y1="743" x2="2100" y2="743"/><line x1="2080" y1="751" x2="2100" y2="751"/><line x1="2080" y1="759" x2="2100" y2="759"/>
<line x1="2087" y1="727" x2="2087" y2="769"/><line x1="2094" y1="727" x2="2094" y2="769"/>
<line x1="2066" y1="724" x2="2066" y2="788"/><line x1="2074" y1="724" x2="2074" y2="788"/></g>
<rect x="2063" y="791" width="9" height="17" fill="#222"/>
<!-- frame -->
<path class="k" d="M2112,693 L2112,1018 L2103,1018 L2103,1137 L2385,1137 L2385,1128 Q2385,1122 2381,1118 L2342,1082 Q2334,1072 2326,1070 L2318,1070 L2318,1018 L2307,1018 L2307,693"/>
<path class="k" d="M2162,693 L2162,1018 L2208,1018 L2208,1027 L2200,1027 L2200,1037 L2222,1037 L2222,1027 L2215,1027 L2215,1018 L2257,1018 L2257,693"/>
<path d="M2162,702 L2172,693 M2257,702 L2247,693" stroke="#222" stroke-width="2" fill="none"/>
<g class="t"><line x1="2115" y1="1018" x2="2115" y2="1058"/><line x1="2162" y1="1018" x2="2162" y2="1058"/><line x1="2257" y1="1018" x2="2257" y2="1058"/><line x1="2305" y1="1018" x2="2305" y2="1058"/></g>
<line x1="2103" y1="1058" x2="2318" y2="1058" stroke="#222" stroke-width="1.6"/>
<line class="t" x1="2175" y1="1058" x2="2175" y2="1137"/>
<line class="t" x1="2245" y1="1058" x2="2245" y2="1137"/>
<rect x="2175" y="1091" width="8" height="12" fill="#fff" stroke="#222" stroke-width="1.3"/>
<line class="t" x1="2168" y1="1097" x2="2190" y2="1097"/>
<rect x="2236" y="1091" width="8" height="12" fill="#fff" stroke="#222" stroke-width="1.3"/>
<line class="t" x1="2229" y1="1097" x2="2251" y2="1097"/>
<line class="t" x1="2318" y1="1070" x2="2318" y2="1137"/>
<circle cx="2339" cy="1114" r="10" fill="none" stroke="#111" stroke-width="2"/>
<line class="t" x1="2325" y1="1114" x2="2357" y2="1114"/>
<line class="t" x1="2339" y1="1100" x2="2339" y2="1128"/>
<rect x="-14" y="-5" width="28" height="10" rx="2" transform="translate(2363,1092) rotate(43)" fill="#222"/>
<!-- punch in opening -->
<rect class="mw" x="2193" y="693" width="37" height="24" style="stroke-width:2.5"/>
<rect class="kw" x="2178" y="717" width="65" height="14" rx="4"/>
<rect class="mw" x="2186" y="731" width="54" height="10" style="stroke-width:2.5"/>
<rect class="kw" x="2173" y="741" width="77" height="18"/>
<rect class="kw" x="2182" y="759" width="58" height="37" rx="2"/>
<line class="cl" x1="2212" y1="693" x2="2212" y2="840"/>
<circle cx="2213" cy="755" r="62" fill="none" stroke="#555" stroke-width="1.2"/>
<polyline class="dm" points="2218,757 2352,802 2372,802"/>
<text class="lb" x="2392" y="811" font-size="26" text-anchor="middle">A</text>
<line class="hd" x1="2139" y1="574" x2="2139" y2="1160" style="stroke-width:1.2"/>
<line class="hd" x1="2282" y1="574" x2="2282" y2="1160" style="stroke-width:1.2"/>
<line class="dm" x1="2140" y1="906" x2="2281" y2="906" marker-start="url(#a)" marker-end="url(#a)"/>
<text class="lb" x="2215" y="894" font-size="25" text-anchor="middle">C2</text>
<line class="dm" x1="2284" y1="968" x2="2262" y2="968" marker-end="url(#a)"/>
<line class="dm" x1="2285" y1="968" x2="2307" y2="968" marker-end="url(#a)"/>
<line class="dm" x1="2307" y1="968" x2="2410" y2="968"/>
<text class="sr" x="2333" y="963" font-size="20" textLength="64" lengthAdjust="spacingAndGlyphs" style="fill:#7a7a7a">4-Φ60</text>
<line class="dm" x1="2103" y1="1140" x2="2103" y2="1189"/>
<line class="dm" x1="2317" y1="1140" x2="2317" y2="1189"/>
<line class="dm" x1="2104" y1="1177" x2="2316" y2="1177" marker-start="url(#a)" marker-end="url(#a)"/>
<text class="lb" x="2198" y="1168" font-size="25" text-anchor="middle">C1</text>
<line class="dm" x1="2318" y1="1177" x2="2384" y2="1177" marker-start="url(#a)" marker-end="url(#a)"/>
<text class="sr" x="2349" y="1171" font-size="20" text-anchor="middle" style="fill:#888">82</text>
<line class="dm" x1="2385" y1="1139" x2="2385" y2="1244"/>
<line class="dm" x1="2033" y1="810" x2="2033" y2="1244"/>
<line class="dm" x1="2034" y1="1230" x2="2384" y2="1230" marker-start="url(#a)" marker-end="url(#a)"/>
<text class="lb" x="2205" y="1220" font-size="26" text-anchor="middle">C</text>
</svg>
</body></html>
